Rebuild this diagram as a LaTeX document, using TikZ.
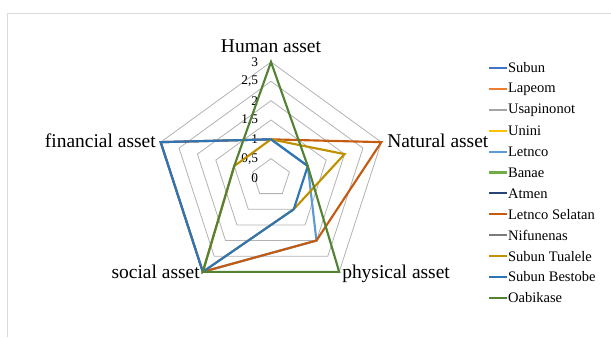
\documentclass[tikz,border=0pt]{standalone}
\usepackage{fontspec}
\setmainfont{Liberation Serif}
\definecolor{csubun}{HTML}{4472C4}
\definecolor{clapeom}{HTML}{ED7D31}
\definecolor{cusapinonot}{HTML}{A5A5A5}
\definecolor{cunini}{HTML}{FFC000}
\definecolor{cletnco}{HTML}{5B9BD5}
\definecolor{cbanae}{HTML}{70AD47}
\definecolor{catmen}{HTML}{264478}
\definecolor{cletncoselatan}{HTML}{C55A11}
\definecolor{cnifunenas}{HTML}{7B7B7B}
\definecolor{csubuntualele}{HTML}{BF9000}
\definecolor{csubunbestobe}{HTML}{2E75B6}
\definecolor{coabikase}{HTML}{548235}
\begin{document}
\begin{tikzpicture}[
				x=0.75pt, y=0.75pt,
				gridline/.style={gray!60, line width=0.6pt},
				series/.style={line width=1.6pt},
				axislabel/.style={font=\fontsize{14.6}{17}\selectfont, inner sep=0pt},
				ticklabel/.style={font=\fontsize{10}{12}\selectfont, inner sep=0pt, anchor=east},
				legline/.style={line width=1.6pt},
				legtext/.style={font=\fontsize{10.9}{13}\selectfont, inner sep=0pt, anchor=west, text=black}
				]
				
				\useasboundingbox (0,0) rectangle (611,337);
				\draw[gray!30, line width=0.75pt] (7.5,0) -- (7.5,323.5) -- (611,323.5);
				
				\begin{scope}[shift={(271,159)}, x=29pt, y=29pt]
				\foreach \r in {0.5,1,...,3}
				\draw[gridline] (90:\r) -- (18:\r) -- (-54:\r) -- (-126:\r) -- (162:\r) -- cycle;
				
				\foreach \v/\t [count=\k] in {0/0, 0.5/{0,5}, 1/1, 1.5/{1,5}, 2/2, 2.5/{2,5}, 3/3}
				\node[ticklabel, xshift=-9.5pt] (tick\k) at (90:\v) {\t};
				
				\draw[series, cletnco] (90:1) -- (18:1) -- (-54:2) -- (-126:3) -- (162:3) -- cycle;
				\draw[series, cletncoselatan] (90:1) -- (18:3) -- (-54:2) -- (-126:3) -- (162:3) -- cycle;
				\draw[series, csubuntualele] (90:1) -- (18:2) -- (-54:1) -- (-126:3) -- (162:1) -- cycle;
				\draw[series, csubunbestobe] (90:1) -- (18:1) -- (-54:1) -- (-126:3) -- (162:3) -- cycle;
				\draw[series, coabikase] (90:3) -- (18:1) -- (-54:3) -- (-126:3) -- (162:1) -- cycle;
				\end{scope}
				
				\node[axislabel, anchor=base] (human) at (271,285) {Human asset};
				\node[axislabel, anchor=base west] (natural) at (387,190) {Natural asset};
				\node[axislabel, anchor=base west] (physical) at (342,59) {physical asset};
				\node[axislabel, anchor=base east] (social) at (200,59) {social asset};
				\node[axislabel, anchor=base east] (financial) at (156,190) {financial asset};
				
				\foreach \name/\col [count=\i] in {Subun/csubun, Lapeom/clapeom, Usapinonot/cusapinonot, Unini/cunini, Letnco/cletnco, Banae/cbanae, Atmen/catmen, Letnco Selatan/cletncoselatan, Nifunenas/cnifunenas, Subun Tualele/csubuntualele, Subun Bestobe/csubunbestobe, Oabikase/coabikase}
				\draw[legline, \col] (489,{269-20.9*(\i-1)}) coordinate (lg\i) -- ++(18,0) node[legtext] (leg\i) {\name};
				\end{tikzpicture}
\end{document}
